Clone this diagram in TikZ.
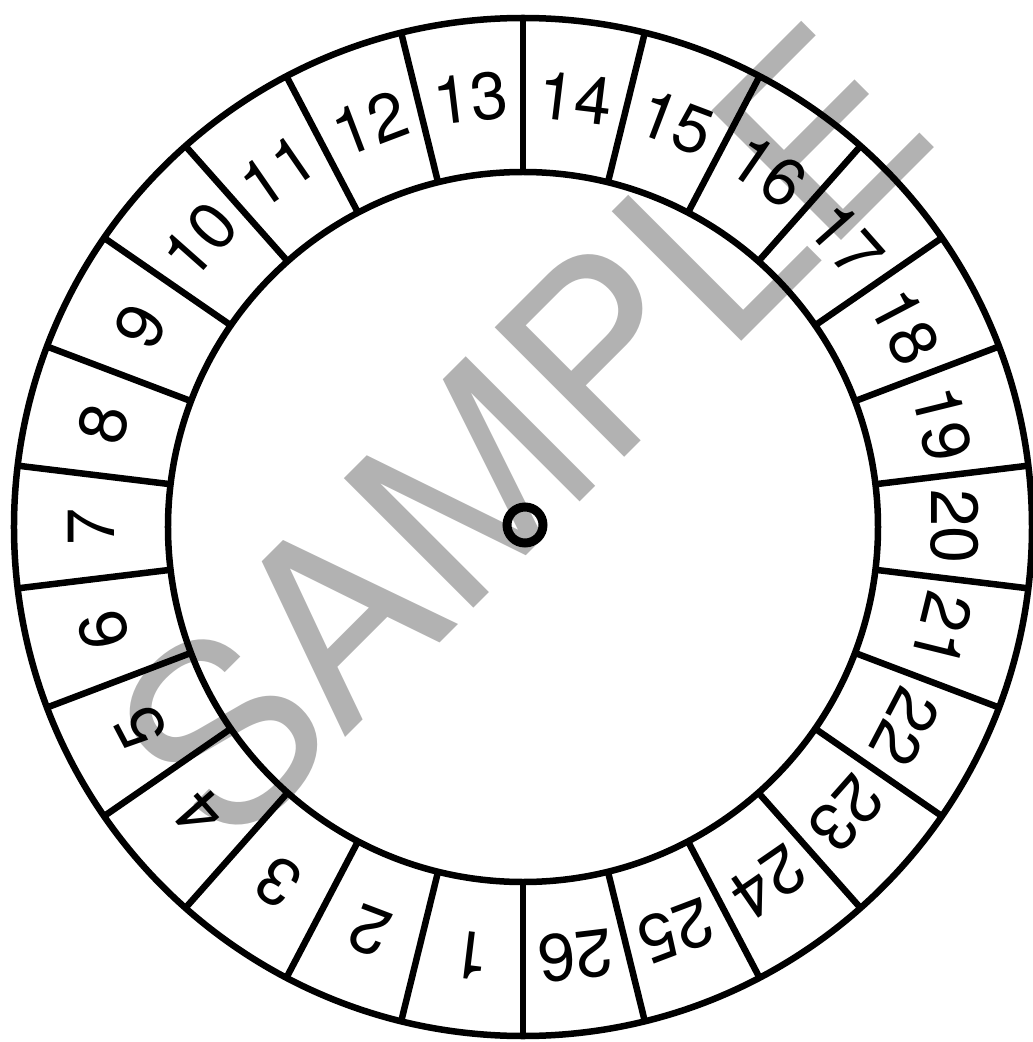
\documentclass[tikz,border=0pt]{standalone}
\usepackage{fontspec}
\setmainfont{TeX Gyre Heros}
\begin{document}
\begin{tikzpicture}
\tikzset{wheelline/.style={line width=0.065cm},
  numlabel/.style={inner sep=0,font=\fontsize{19}{22}\selectfont}}
\useasboundingbox (-5.23,-5.15) rectangle (5.09,5.27);
% watermark
\node[text=black!30,inner sep=0,rotate=45,font=\fontsize{71.5}{80}\selectfont] (mark) at (-0.02,0.95) {SAMPLE};
% rings
\draw[wheelline] (0,0) circle[radius=5.09];
\draw[wheelline] (0,0) circle[radius=3.55];
\draw[line width=0.09cm] (0.02,0.02) circle[radius=0.18];
% spokes
\foreach \k in {0,...,25}
  \draw[wheelline] ({90-(\k-13)*360/26}:3.55)--({90-(\k-13)*360/26}:5.09);
% numbers
\foreach \k in {1,...,26}
  \node[numlabel,rotate={-(\k-13.5)*360/26}] (num\k) at ({90-(\k-13.5)*360/26}:4.32) {\k};
\end{tikzpicture}
\end{document}
